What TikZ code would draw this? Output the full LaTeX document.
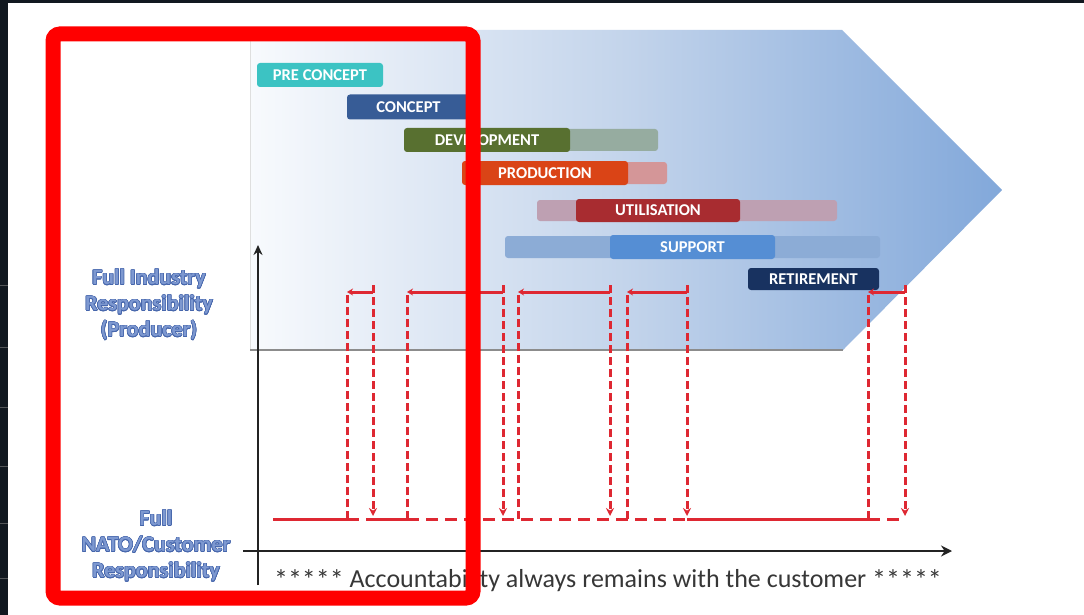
\documentclass[tikz,border=0pt]{standalone}
\usepackage{fontspec}
\setmainfont{Carlito}
\usepackage{contour}
\contourlength{0.6pt}
\usetikzlibrary{arrows.meta}
\definecolor{sigred}{RGB}{222,40,50}
\definecolor{preconc}{RGB}{60,195,195}
\definecolor{concept}{RGB}{55,92,150}
\definecolor{devel}{RGB}{88,112,48}
\definecolor{develx}{RGB}{150,172,160}
\definecolor{prod}{RGB}{218,68,22}
\definecolor{prodx}{RGB}{212,150,152}
\definecolor{util}{RGB}{168,44,48}
\definecolor{utilx}{RGB}{190,160,178}
\definecolor{supp}{RGB}{85,142,212}
\definecolor{suppx}{RGB}{140,172,214}
\definecolor{retire}{RGB}{24,50,96}
\definecolor{lblfill}{RGB}{125,152,208}
\definecolor{lbledge}{RGB}{70,102,172}
\definecolor{axisc}{RGB}{35,35,35}
\definecolor{darkbg}{RGB}{17,24,32}
\definecolor{redframe}{RGB}{255,0,0}
\definecolor{chevL}{RGB}{248,250,253}
\definecolor{chevM}{RGB}{195,212,235}
\definecolor{chevR}{RGB}{130,168,218}
\definecolor{acctext}{RGB}{55,55,55}
\tikzset{
  barnode/.style={rounded corners=3pt, inner sep=0pt, text=white,
    font=\bfseries\fontsize{16.5}{18}\selectfont},
  ext/.style={rounded corners=3pt},
  sidelbl/.style={align=center, text=lblfill,
    font=\bfseries\fontsize{22}{26}\selectfont},
  sigline/.style={draw=sigred, line width=3pt},
  sigdash/.style={sigline, dash pattern=on 8pt off 4pt},
  sigdashb/.style={sigline, dash pattern=on 12pt off 7pt},
  axisline/.style={draw=axisc, line width=2pt},
}
\newcommand{\stars}{\raisebox{-2pt}{\fontsize{28}{28}\selectfont*****}}
\begin{document}
\begin{tikzpicture}[x=1pt,y=-1pt]
\useasboundingbox (0,0) rectangle (1084,615);
\fill[white] (0,0) rectangle (1084,615);
% screen strips
\fill[darkbg] (0,0) rectangle (1084,3);
\fill[darkbg] (0,0) rectangle (8,615);
\foreach \yy in {285,347,407,466,523,578}
  \draw[gray!60!darkbg, line width=0.8pt] (0,\yy) -- (8,\yy);
% chevron
\shade[left color=chevL, right color=chevR, middle color=chevM]
  (250,30) -- (842,30) -- (1002,190) -- (843,350) -- (250,350) -- cycle;
\draw[gray!25, line width=1pt] (250,30) -- (250,350);
\draw[gray!90, line width=2pt] (250,350) -- (843,350);
% extensions
\fill[develx, ext] (565,129) rectangle (658,151);
\fill[prodx, ext] (623,162) rectangle (667,184);
\fill[utilx, ext] (537,200) rectangle (580,221);
\fill[utilx, ext] (736,200) rectangle (837,221);
\fill[suppx, ext] (505,236) rectangle (614,258);
\fill[suppx, ext] (771,236) rectangle (880,258);
% phase bars
\node[barnode, fill=preconc, minimum width=126pt, minimum height=24pt] (pre) at (320,75) {PRE CONCEPT};
\node[barnode, fill=concept, minimum width=123pt, minimum height=25pt] (conc) at (408.5,107) {CONCEPT};
\node[barnode, fill=devel, minimum width=166pt, minimum height=24pt] (dev) at (487,140) {DEVELOPMENT};
\node[barnode, fill=prod, minimum width=166pt, minimum height=24pt] (prd) at (545,173) {PRODUCTION};
\node[barnode, fill=util, minimum width=164pt, minimum height=23pt] (uti) at (658,210.5) {UTILISATION};
\node[barnode, fill=supp, minimum width=165pt, minimum height=24pt] (sup) at (692.5,247) {SUPPORT};
\node[barnode, fill=retire, minimum width=131pt, minimum height=22pt] (ret) at (813.5,279) {RETIREMENT};
% side labels
\node[sidelbl] (ind) at (149,305) {\contour{lbledge}{Full Industry}\\\contour{lbledge}{Responsibility}\\\contour{lbledge}{(Producer)}};
\node[sidelbl] (cus) at (156,546) {\contour{lbledge}{Full}\\\contour{lbledge}{NATO/Customer}\\\contour{lbledge}{Responsibility}};
% axes
\coordinate (yaxb) at (258,585);
\coordinate (yaxt) at (258,245);
\coordinate (xaxl) at (243,551);
\coordinate (xaxr) at (952,551);
\draw[axisline, -{Stealth[length=10pt,width=9pt]}] (yaxb) -- (yaxt);
\draw[axisline, -{Stealth[length=11pt,width=11pt]}] (xaxl) -- (xaxr);
% signal
\foreach \L/\R [count=\i] in {347/373, 407/503, 518/610, 627/687, 868/905} {
  \coordinate (lb\i) at (\L,519);
  \coordinate (lt\i) at (\L,292);
  \coordinate (rt\i) at (\R,292);
  \coordinate (rk\i) at (\R,285);
  \coordinate (ra\i) at (\R,516);
  \coordinate (rb\i) at (\R,519);
  \draw[sigdash] (lb\i) -- (lt\i);
  \draw[sigline, -{Stealth[length=6pt,width=7pt]}] (rt\i) -- (lt\i);
  \draw[sigdash, -{Stealth[length=8pt,width=8pt]}] (rk\i) -- (ra\i);
}
\coordinate (b0) at (273,519);
\draw[sigline] (b0) -- (lb1);
\draw[sigdashb] (lb1) -- (rb1);
\draw[sigline] (rb1) -- (lb2);
\draw[sigdashb] (lb2) -- (rb4);
\draw[sigline] (rb4) -- (lb5);
\draw[sigdashb] (lb5) -- (rb5);
% bottom text
\node[text=acctext, font=\fontsize{26}{28}\selectfont, inner sep=0pt] (acc) at (608,581)
  {\stars\ Accountability always remains with the customer \stars};
% red highlight frame
\draw[redframe, line width=15pt, rounded corners=7pt] (53,34) rectangle (473,598);
\end{tikzpicture}
\end{document}
